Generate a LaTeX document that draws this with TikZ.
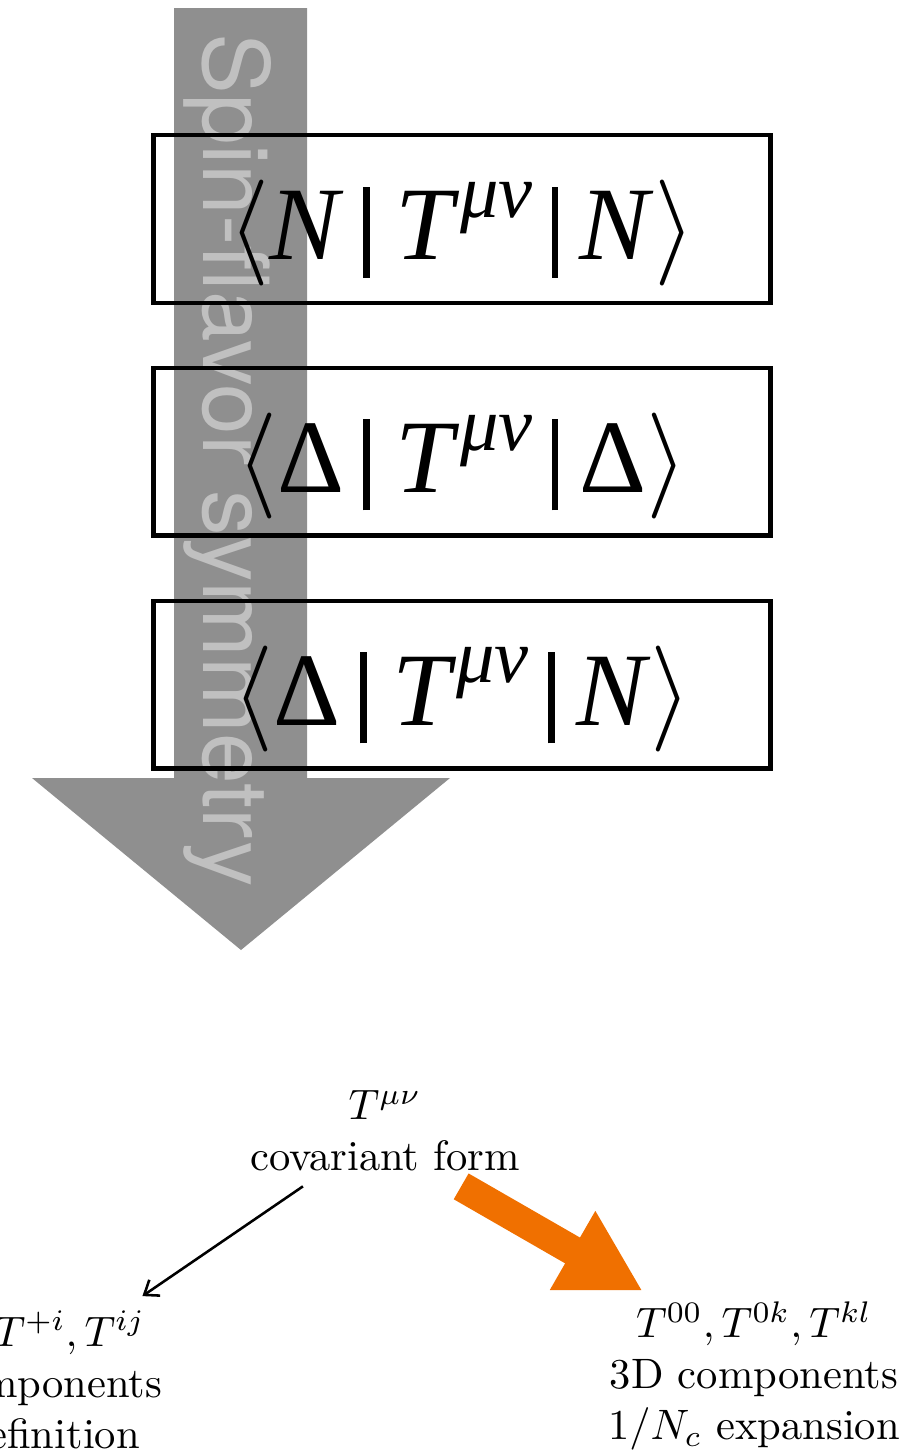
\documentclass[tikz,border=0pt]{standalone}
\usepackage{fontspec}
\newfontfamily\helv{TeX Gyre Heros}
\newfontfamily\tms{Liberation Serif}
\usepackage{tikz}
\usetikzlibrary{arrows.meta,positioning}
\usepackage{amsmath}

\definecolor{arrowgray}{RGB}{143,143,143}
\definecolor{labelgray}{RGB}{192,192,192}
\definecolor{hiorange}{RGB}{240,112,0}

\newcommand{\vbar}{\kern4.5pt\rule[-4.2pt]{1.6pt}{21.4pt}\kern5pt}
\newcommand{\melem}[2]{$\langle$#1\vbar\kern1pt{\itshape T}\kern1.5pt\raisebox{10pt}{\fontsize{18}{18}\selectfont\itshape μν}\vbar#2$\rangle$}

\begin{document}
\begin{tikzpicture}[
    x=0.235pt, y=-0.235pt,
    mbox/.style={draw, line width=1pt, minimum width=145pt, minimum height=39.4pt, inner sep=0pt,
      text height=24pt, text depth=4.8pt, font=\tms\fontsize{24.5}{28}\selectfont},
    lbl/.style={align=center},
    node distance=14.3pt
  ]
  \useasboundingbox (0,0) rectangle (901,1455);
  \fill[arrowgray] (174,8) -- (307,8) -- (307,778) -- (450,778) -- (241,950) -- (32,778) -- (174,778) -- cycle;
  \node[rotate=-90, text=labelgray, font=\helv\fontsize{21.4}{25}\selectfont] (sym) at (228,460) {Spin-flavor symmetry};

  \node[mbox] (nn) at (462,219) {\melem{\textit{N}}{\textit{N}}};
  \node[mbox, below=of nn] (dd) {\melem{Δ}{Δ}};
  \node[mbox, below=of dd] (dn) {\melem{Δ}{\textit{N}}};

  \node[lbl] (cov) at (385,1131) {$T^{\mu\nu}$\\covariant form};
  \node[lbl] (lf) at (18,1380) {$T^{++},T^{+i},T^{ij}$\\2D components\\LF definition};
  \node[lbl] (td) at (754,1376) {$T^{00},T^{0k},T^{kl}$\\3D components\\$1/N_c$ expansion};

  \draw[-{Straight Barb[length=3pt,width=4.5pt]}, semithick] (cov.214) -- (lf.34);
  \draw[hiorange, line width=7pt, -{Triangle[length=19pt,width=20pt]}, shorten >=-2pt] (cov.-36) -- (td.143);
\end{tikzpicture}
\end{document}
